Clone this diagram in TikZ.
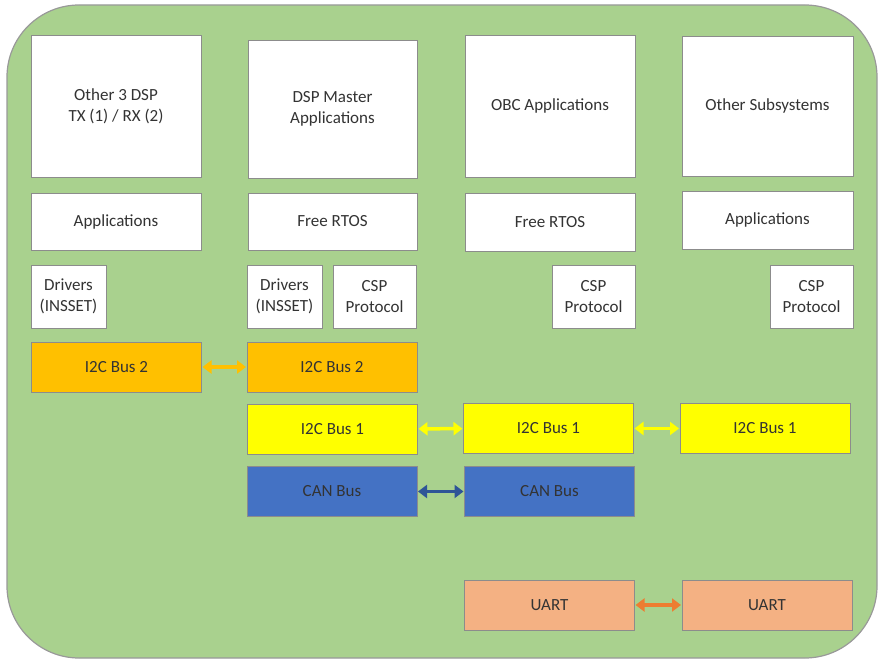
\documentclass[tikz,border=0pt]{standalone}
\usepackage{fontspec}
\setmainfont{Carlito}
\usetikzlibrary{arrows.meta}
\definecolor{bggreen}{HTML}{A9D18E}
\definecolor{orng}{HTML}{FFC000}
\definecolor{yell}{HTML}{FFFF00}
\definecolor{canblue}{HTML}{4472C4}
\definecolor{darkblue}{HTML}{2F5597}
\definecolor{salmon}{HTML}{F4B183}
\definecolor{uartarrow}{HTML}{ED7D31}
\definecolor{txt}{HTML}{333333}
\tikzset{
  wbox/.style={draw=black!45, line width=0.9pt, fill=white, inner sep=0pt, outer sep=0pt,
    align=center, font=\fontsize{17}{21}\selectfont, text=txt},
  busbox/.style={draw=black!45, line width=0.9pt, inner sep=0pt, outer sep=0pt,
    minimum width=170pt, minimum height=50pt, font=\fontsize{17}{21}\selectfont, text=txt},
  link/.style={line width=3.5pt, {Triangle[length=9pt,width=13pt]}-{Triangle[length=9pt,width=13pt]}, shorten <=1pt, shorten >=1pt}
}
\begin{document}
\begin{tikzpicture}[x=1pt,y=-1pt]
\useasboundingbox (0,0) rectangle (879,660);
\draw[draw=black!40, line width=1.2pt, fill=bggreen, rounded corners=72pt] (7,5) rectangle (877,658);

% column 1
\node[wbox, minimum width=170pt, minimum height=142pt] (c1top) at (116,106) {Other 3 DSP\\TX (1) / RX (2)};
\node[wbox, minimum width=170pt, minimum height=57pt] (c1app) at (116,221.5) {Applications};
\node[wbox, minimum width=75pt, minimum height=63pt] (c1drv) at (68.5,296.5) {Drivers\\(INSSET)};
% column 2
\node[wbox, minimum width=169pt, minimum height=138pt] (c2top) at (332.5,109) {DSP Master\\Applications};
\node[wbox, minimum width=169pt, minimum height=57pt] (c2rtos) at (332.5,221.5) {Free RTOS};
\node[wbox, minimum width=75pt, minimum height=63pt] (c2drv) at (284.5,296.5) {Drivers\\(INSSET)};
\node[wbox, minimum width=83pt, minimum height=63pt] (c2csp) at (374.5,296.5) {CSP\\Protocol};
% column 3
\node[wbox, minimum width=170pt, minimum height=142pt] (c3top) at (550,106) {OBC Applications};
\node[wbox, minimum width=170pt, minimum height=58pt] (c3rtos) at (550,222) {Free RTOS};
\node[wbox, minimum width=83pt, minimum height=63pt] (c3csp) at (593.5,296.5) {CSP\\Protocol};
% column 4
\node[wbox, minimum width=171pt, minimum height=140pt] (c4top) at (767.5,106) {Other Subsystems};
\node[wbox, minimum width=171pt, minimum height=58pt] (c4app) at (767.5,220) {Applications};
\node[wbox, minimum width=83pt, minimum height=63pt] (c4csp) at (811.5,296.5) {CSP\\Protocol};

% buses
\node[busbox, fill=orng] (b1i2c2) at (116.5,367) {I2C Bus 2};
\node[busbox, fill=orng] (b2i2c2) at (332,367) {I2C Bus 2};
\node[busbox, fill=yell] (b2i2c1) at (332.5,429) {I2C Bus 1};
\node[busbox, fill=canblue] (b2can) at (332,491.5) {CAN Bus};
\node[busbox, fill=yell] (b3i2c1) at (548.5,428.5) {I2C Bus 1};
\node[busbox, fill=yell] (b4i2c1) at (765,428.5) {I2C Bus 1};
\node[busbox, fill=canblue] (b3can) at (549.5,491.5) {CAN Bus};
\node[busbox, fill=salmon] (b3uart) at (549.5,605) {UART};
\node[busbox, fill=salmon] (b4uart) at (767,605) {UART};

% links
\draw[link, draw=orng, fill=orng] (b1i2c2) -- (b2i2c2);
\draw[link, draw=yell, fill=yell] (b2i2c1) -- (b3i2c1);
\draw[link, draw=yell, fill=yell] (b3i2c1) -- (b4i2c1);
\draw[link, draw=darkblue, fill=darkblue] (b2can) -- (b3can);
\draw[link, draw=uartarrow, fill=uartarrow] (b3uart) -- (b4uart);
\end{tikzpicture}
\end{document}
